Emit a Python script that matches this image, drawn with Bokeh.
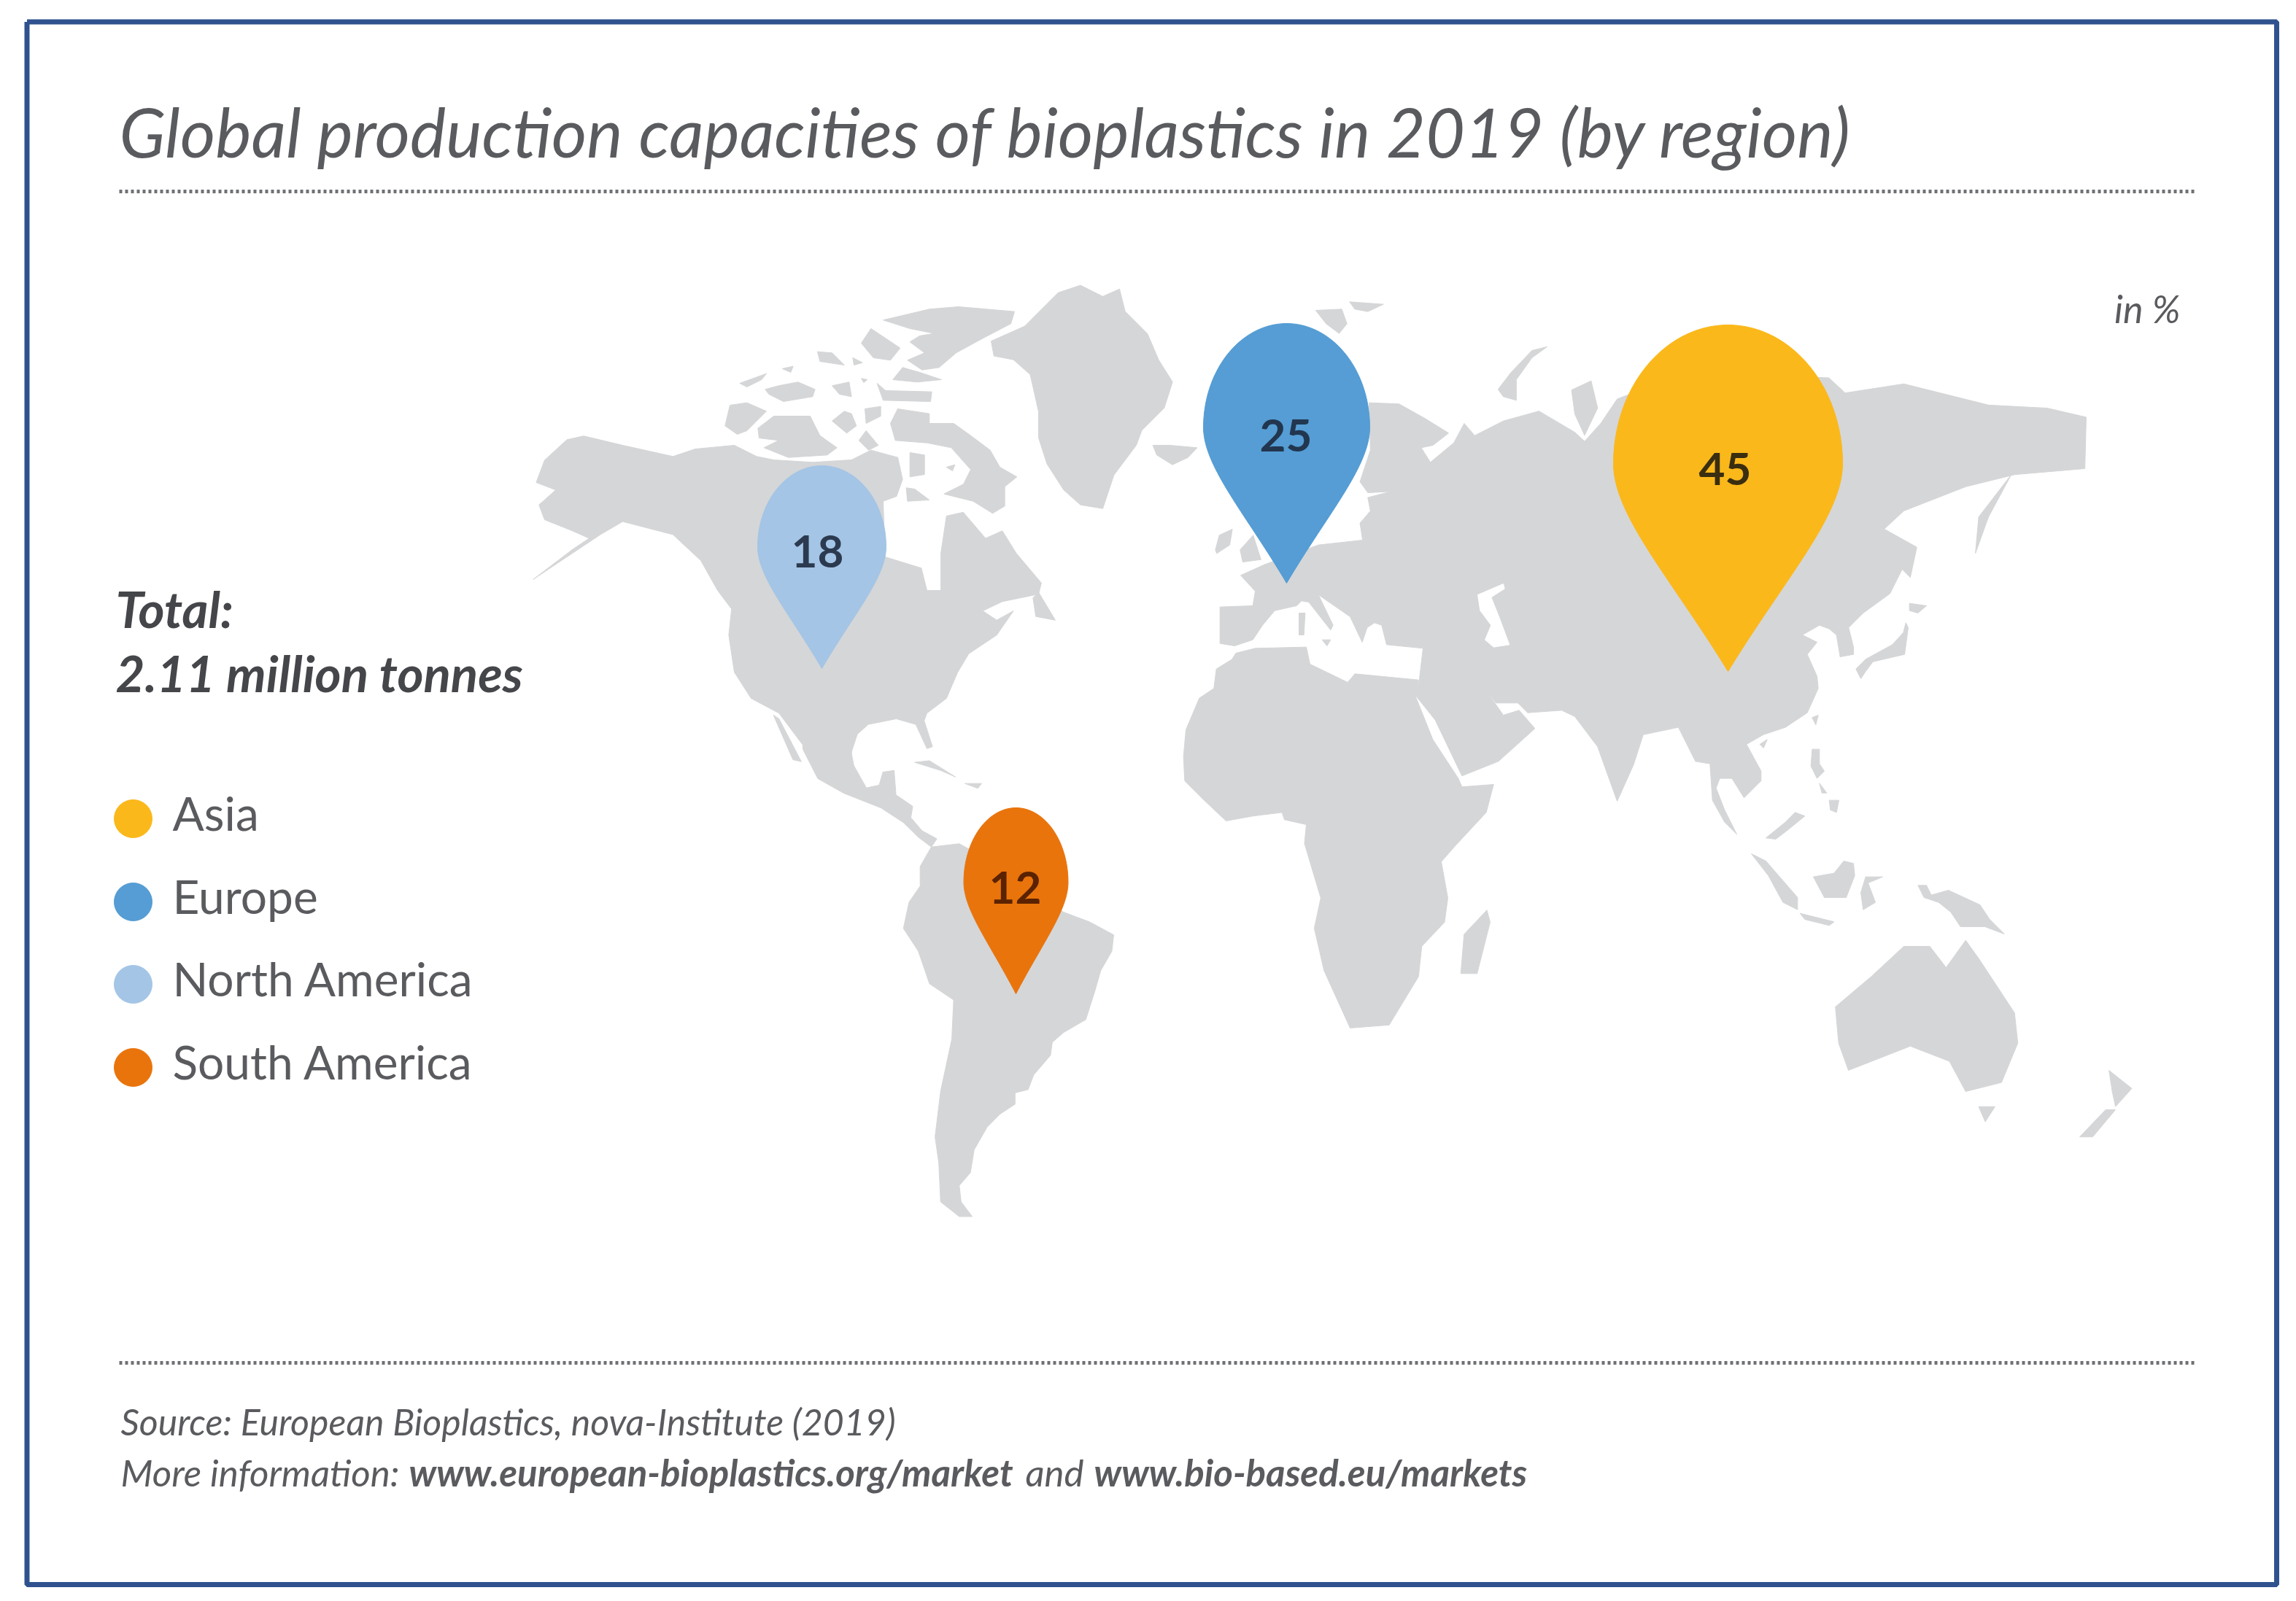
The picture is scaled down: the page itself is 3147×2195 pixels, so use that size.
from bokeh.plotting import figure
from bokeh.models import Range1d
from bokeh.core.properties import value
from bokeh.embed import file_html
from bokeh.resources import INLINE
import numpy as np

# ---------- chart values ----------
regions = ["Asia", "Europe", "North America", "South America"]
shares = [45, 25, 18, 12]
colors = ["#FBB81A", "#559DD4", "#A4C5E5", "#E9740C"]
label_colors = ["#3A2E10", "#22364F", "#2C3A50", "#5A2200"]
title = "Global production capacities of bioplastics in 2019 (by region)"
unit = "in %"
total_lines = ["Total:", "2.11 million tonnes"]
source_line = "Source: European Bioplastics, nova-Institute (2019)"
more_parts = ["More information: ", "www.european-bioplastics.org/market", "and", "www.bio-based.eu/markets"]

# pin geometry, canvas units
pin_tip_x = [2368, 1763, 1126, 1392]
pin_tip_y = [920, 799, 916, 1362]
pin_width = [314, 228, 176, 143]
pin_height = [475, 356, 278, 255]
pin_label_x = [2364, 1762, 1120, 1391]
pin_label_y = [642, 596, 755, 1216]

# crop-space readers for the traced outlines
def z1(*p): return [(700 + x / 1.307, 360 + y / 1.96) for x, y in p]
def z2(*p): return [(1600 + x / 1.12, 360 + y / 1.206) for x, y in p]
def z3(*p): return [(1100 + x / 1.96, 1000 + y / 2.24) for x, y in p]
def z7(*p): return [(1620 + x / 3, 760 + y / 3) for x, y in p]
def z8(*p): return [(2300 + x / 3, 780 + y / 3) for x, y in p]
def za(*p): return [(980 + x / 3, 400 + y / 3) for x, y in p]
def zb(*p): return [(1560 + x / 2.8, 400 + y / 3) for x, y in p]

north_america = (z1((45,590),(60,530),(100,475),(130,465),(200,490),(290,520),(330,500),(400,490),(440,520))
    + za((240,690),(400,700),(560,690),(640,650),(750,680),(770,770),(745,840),(690,860))
    + z1((670,790),(735,820),(745,880),(770,880),(770,780),(780,680),
    (810,670),(850,740),(880,720),(905,780),(950,860),(945,890),(880,910),(845,935),(870,960),(900,935),(870,1000),(820,1050),
    (800,1100),(780,1170),(745,1210),(740,1230),(755,1300),(745,1305),(725,1240),(690,1225),(640,1240),(610,1280),(610,1340),
    (640,1420),(600,1400),(550,1380),(540,1330),(480,1210),(430,1170),(400,1100),(390,1000),(395,930),(370,880),(340,800),
    (290,730),(200,695),(160,730),(110,780),(50,840),(40,850),(110,770),(140,740),(110,720),(60,690),(50,650),(80,610)))
baja = z1((470,1215),(480,1225),(520,1340),(505,1335))
central_america = z3((0,0),(150,0),(130,70),(140,130),(165,180),(205,170),(215,130),(245,125),(250,200),(295,235),(290,270),
    (320,310),(360,335),(345,360),(310,330),(270,285),(210,240),(110,195),(40,150),(0,60))
south_america = z3((345,360),(420,350),(500,400),(620,500),(700,560),(770,590),(835,630),(830,680),(800,740),(785,800),(760,890),
    (700,930),(670,960),(665,1000),(620,1060),(605,1105),(570,1115),(570,1150),(530,1180),(495,1220),(460,1290),(450,1360),
    (420,1400),(425,1450),(455,1495),(420,1495),(370,1450),(365,1330),(355,1250),(370,1110),(400,950),(405,830),(340,780),
    (310,680),(270,610),(285,530),(315,480),(315,420))
greenland = z1((860,210),(920,170),(980,80),(1020,60),(1060,90),(1090,70),(1100,130),(1140,190),(1160,260),(1185,320),(1170,390),
    (1130,450),(1120,490),(1080,570),(1060,660),(1020,650),(990,610),(960,540),(945,470),(945,400),(930,300),(900,260),(865,250))
arctic = [
    za((690,115),(880,70),(1000,60),(1230,80),(1215,130),(1100,190),(990,250),(920,310),(850,320),(790,280),(860,250),(800,205),(840,180),(900,170),(800,150)),
    za((600,210),(640,150),(700,190),(760,230),(720,280),(650,270)),
    za((730,360),(770,310),(840,330),(930,360),(830,370)),
    za((420,245),(480,250),(530,300),(430,285)),
    za((565,270),(605,290),(570,300)),
    za((275,315),(320,305),(310,330)),
    za((100,375),(210,335),(190,360),(130,390)),
    za((205,400),(260,385),(340,370),(410,400),(400,430),(280,450),(220,420)),
    za((480,385),(550,370),(560,430),(510,420)),
    za((600,355),(625,360),(610,372)),
    za((665,375),(700,405),(890,410),(885,450),(690,445)),
    za((40,550),(60,465),(130,455),(210,490),(130,570),(90,585)),
    za((175,560),(240,510),(390,510),(430,590),(500,640),(460,670),(300,680),(200,640),(260,610),(180,600)),
    za((480,530),(530,490),(560,500),(580,550),(540,580)),
    za((615,480),(680,470),(680,510),(620,540)),
    za((590,610),(620,570),(670,630),(630,650)),
    za((720,540),(750,480),(880,500),(880,540),(980,540),(1050,590),(1130,650),(1170,720),(1240,760),(1190,800),(1190,880),(1140,910),(1060,860),(940,830),(1020,790),(1050,730),(970,640),(870,620),(740,610)),
    za((950,720),(985,710),(975,735)),
    za((800,660),(860,670),(860,750),(800,760)),
    za((785,805),(820,810),(880,855),(790,860)),
    z1((935,900),(945,885),(975,960),(940,950)),
]
iceland = zb((55,630),(120,630),(225,640),(190,680),(130,710),(70,670))
british = [zb((295,1060),(310,1000),(360,975),(350,1040),(300,1075)), zb((390,1060),(440,1000),(470,1100),(400,1110))]
eurasia = (z7((155,365),(155,215),(290,210),(300,150),(240,85),(340,40))
    + zb((690,1040),(860,1020),(850,950),(890,900),(880,845),(970,820),(880,825),(850,780),(890,650),(885,455),(1000,460),(1100,520),
         (1190,580),(1130,630),(1085,640),(1120,700),(1210,620),(1250,540),(1290,590),(1400,530))
    + z2((570,245),(625,280),(640,295),(665,265),(690,225),(800,180),(1015,190),(1040,215),(1130,200),(1260,235),
         (1350,240),(1410,255),(1408,340),(1300,350),(1225,370),(1130,410),(1100,440),(1150,470),(1140,520))
    + z8((920,0),(870,100),(760,180),(700,240),(720,320),(720,350),(665,360),(650,270),(620,245),(580,230),(510,270),(570,300),(530,350),
         (570,440),(575,490),(530,590),(440,650),(350,680),(280,720),(340,830),(340,870),(270,940),(220,860),(170,860),(155,900),
         (190,990),(240,1090),(190,1040),(140,950),(130,800),(70,790),(0,650))
    + z2((730,780),(715,830),(690,890),(660,800),(625,750))
    + z7((1560,640),(1420,650),(1380,610),(1290,610),(1240,545),(1320,660),(1385,640),(1450,715),(1300,850),(1150,910),(1040,680),(960,580),
         (975,510),(990,385),(840,370),(820,290),(790,280),(760,300),(740,360),(690,255),(560,165),(620,290),(610,310),(520,195),(490,190),
         (470,210),(380,230),(330,290),(290,350),(215,375)))
africa = (z7((220,405),(300,385),(510,380),(525,450),(680,525),(710,490),(970,515),(960,585),(1030,760),(1135,920),(1150,955),(1280,945),(1250,1060),(1120,1200))
    + z2((420,990),(430,1050),(425,1090),(390,1130),(385,1180),(340,1260),(280,1265),(240,1170),(225,1100),(235,1050),(210,960))
    + z7((510,1110),(420,1090),(410,1060),(290,1075),(180,1095),(90,1010),(10,930),(5,830),(15,720),(70,590),(130,550),(140,470),(205,430)))
islands = [
    z2((490,1070),(495,1090),(475,1175),(450,1175),(455,1110)),
    z7((480,240),(505,240),(500,330),(480,330)),
    z7((575,350),(610,350),(595,375)),
    zb((680,75),(780,70),(800,130),(770,170),(720,130)),
    zb((810,40),(940,50),(880,80),(830,70)),
    zb((1380,400),(1430,330),(1510,240),(1568,225),(1510,270),(1450,360),(1450,445),(1400,430)),
    z2((620,210),(650,195),(660,240),(640,285),(625,250)),
    z2((1240,480),(1245,420),(1295,350),(1260,420)),
    z8((935,220),(945,240),(930,350),(800,380),(770,420),(750,450),(730,410),(770,370),(880,310),(925,260)),
    z8((950,140),(1020,150),(985,180),(950,170)),
    z8((335,720),(365,700),(350,735)),
    z8((550,610),(575,600),(565,640)),
    z8((550,740),(580,740),(580,800),(600,830),(570,860),(545,810)),
    z8((580,880),(610,920),(590,920)),
    z8((620,950),(660,950),(650,1000),(625,990)),
    z8((360,1105),(440,1040),(480,1000),(520,1015),(440,1080),(400,1110)),
    z8((300,1170),(360,1200),(490,1350),(490,1400),(430,1370),(370,1260)),
    z8((555,1265),(640,1250),(680,1200),(720,1210),(725,1260),(690,1350),(600,1350)),
    z8((750,1330),(770,1265),(840,1265),(780,1290),(810,1370),(760,1400)),
    z8((985,1300),(1020,1300),(1040,1340),(1110,1320),(1240,1380),(1280,1440),(1340,1500),(1260,1470),(1160,1470),(1120,1410),(1070,1370),(1010,1350)),
    z8((500,1415),(640,1450),(620,1465),(520,1440)),
    z3((300,100),(340,95),(410,145),(370,125)),
    z3((435,165),(480,165),(470,180)),
    z2((1025,1230),(1080,1180),(1130,1130),(1170,1130),(1195,1165),(1225,1120),(1245,1150),(1300,1240),(1305,1290),(1280,1355),(1225,1370),(1200,1320),(1140,1295),(1045,1335),(1030,1290)),
    z2((1245,1395),(1270,1395),(1255,1420)),
    z2((1445,1335),(1480,1365),(1455,1395),(1450,1370)),
    z2((1400,1445),(1440,1400),(1455,1400),(1420,1445)),
]
lakes = [z7((1215,165),(1320,120),(1325,140),(1270,175),(1300,250),(1345,370),(1280,380),(1245,350),(1270,290),(1225,230))]
land = [north_america, baja, central_america, south_america, greenland, iceland, eurasia, africa] + arctic + british + islands

# ---------- canvas ----------
W, H = 3131, 2179
p = figure(width=W, height=H, x_range=Range1d(0, W), y_range=Range1d(H, 0),
           output_backend="svg", toolbar_location=None, min_border=0,
           x_axis_type=None, y_axis_type=None, outline_line_color=None,
           background_fill_color="white", border_fill_color="white")
p.grid.visible = False

LAND = "#D5D6D8"
INK = "#5A5B5E"
FONT = value("Lato")

p.patches([[c[0] for c in s] for s in land], [[c[1] for c in s] for s in land],
          fill_color=LAND, line_color=LAND, line_width=1)
p.patches([[c[0] for c in s] for s in lakes], [[c[1] for c in s] for s in lakes],
          fill_color="white", line_color="white", line_width=1)

def pin_outline(tx, ty, w, h):
    rx = w / 2
    top = ty - h
    yw = top + 0.40 * h
    low = ty - yw
    a = np.linspace(np.pi, 0, 50)
    xs_top = tx + rx * np.cos(a)
    ys_top = yw - (yw - top) * np.sin(a)
    t = np.linspace(0, 1, 40)
    c0, c1, c2, c3 = (rx, yw), (rx, yw + 0.25 * low), (0.5 * rx, ty - 0.45 * low), (0, ty)
    bx = (1-t)**3*c0[0] + 3*(1-t)**2*t*c1[0] + 3*(1-t)*t**2*c2[0] + t**3*c3[0]
    by = (1-t)**3*c0[1] + 3*(1-t)**2*t*c1[1] + 3*(1-t)*t**2*c2[1] + t**3*c3[1]
    return (np.concatenate([xs_top, tx + bx, tx - bx[::-1]]),
            np.concatenate([ys_top, by, by[::-1]]))

for i in range(len(regions)):
    xs, ys = pin_outline(pin_tip_x[i], pin_tip_y[i], pin_width[i], pin_height[i])
    p.patch(xs, ys, fill_color=colors[i], line_color=colors[i], line_width=1)
    p.text([pin_label_x[i]], [pin_label_y[i]], text=[str(shares[i])], text_font=FONT, text_font_size="62px",
           text_font_style="bold", text_color=label_colors[i], text_align="center", text_baseline="middle")

# frame and dotted rules
p.line([36.5, 3120, 3120, 36.5, 36.5], [29.5, 29.5, 2172, 2172, 29.5], line_color="#2F528F", line_width=7)
for y in (262, 1868):
    p.line([163, 3008], [y, y], line_color="#6F7174", line_width=5, line_dash=[4, 4])

def txt(x, y, s, size, style="normal", color=INK, align="left"):
    # y is the baseline in the reference; anchor by the glyph middle
    p.text([x], [y - 0.40 * size], text=[s], text_font=FONT, text_font_size=f"{size}px", text_font_style=style,
           text_color=color, text_align=align, text_baseline="middle")

txt(163, 217, title, 93, "italic")
txt(2988, 443, unit, 52, "italic", align="right")
txt(158, 862, total_lines[0], 69, "bold italic", "#45464A")
txt(158, 950, total_lines[1], 69, "bold italic", "#45464A")

legend_y = [1122, 1236, 1349, 1463]
p.scatter([182] * 4, legend_y, size=52, color=colors)
for s, y in zip(regions, legend_y):
    txt(236, y + 18, s, 64)

txt(165, 1968, source_line, 50, "italic")
txt(165, 2038, more_parts[0], 51, "italic")
txt(560, 2038, more_parts[1], 51, "bold italic")
txt(1405, 2038, more_parts[2], 51, "italic")
txt(1499, 2038, more_parts[3], 51, "bold italic")

open("out.html", "w").write(file_html(p, INLINE))
